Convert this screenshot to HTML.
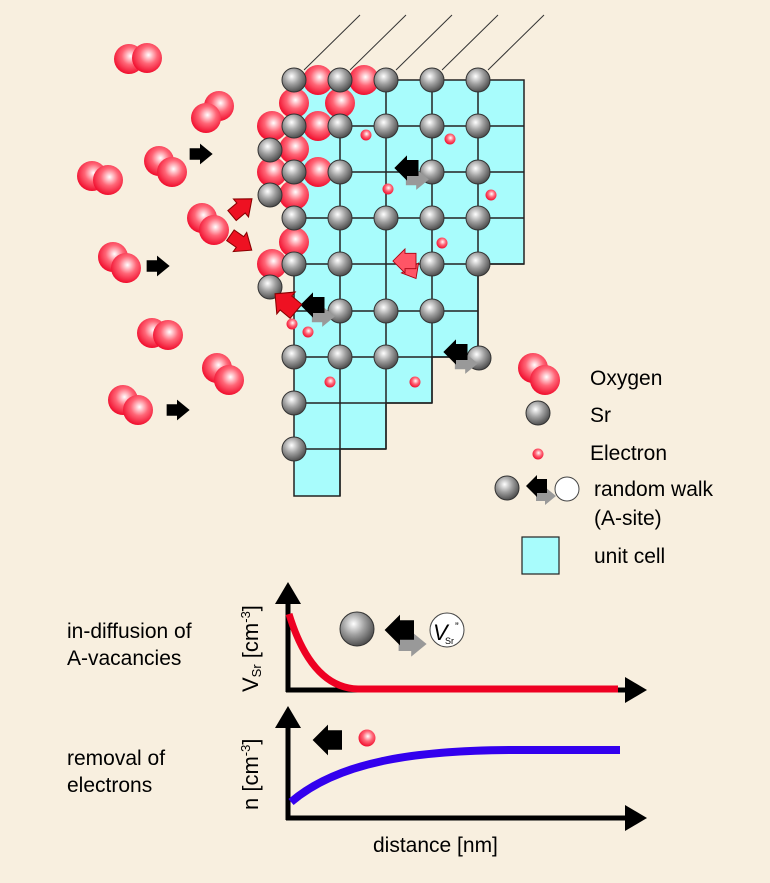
<!DOCTYPE html>
<html><head><meta charset="utf-8"><style>
html,body{margin:0;padding:0;background:#f8efdf;}
svg{display:block;font-family:"Liberation Sans",Arial,sans-serif;}
</style></head><body>
<svg width="770" height="883" viewBox="0 0 770 883" xmlns="http://www.w3.org/2000/svg">
<defs>
<radialGradient id="gs" cx="0.4" cy="0.35" r="0.65"><stop offset="0" stop-color="#ffffff"/><stop offset="0.5" stop-color="#a0a0a0"/><stop offset="1" stop-color="#505050"/></radialGradient>
<radialGradient id="rs" cx="0.55" cy="0.4" r="0.65"><stop offset="0" stop-color="#ffffff"/><stop offset="0.45" stop-color="#ff6677"/><stop offset="1" stop-color="#ee0022"/></radialGradient>
<g id="sr"><circle r="12" fill="url(#gs)" stroke="#333" stroke-width="1"/></g>
<g id="ox"><circle r="15" fill="url(#rs)"/></g>
<g id="el"><circle r="5.5" fill="url(#rs)"/></g>
<path id="la" d="M-11,0 L0,-11 L0,-7 L10,-7 L10,7 L0,7 L0,11 Z"/>
<path id="ra" d="M11,0 L0,-9 L0,-5 L-9,-5 L-9,5 L0,5 L0,9 Z"/>
<g id="rw"><use href="#ra" transform="translate(8,10)" fill="#999"/><use href="#la" fill="#000"/></g>
</defs>

<g stroke="#333" stroke-width="1">
<line x1="304" y1="70" x2="360" y2="15"/><line x1="350" y1="70" x2="406" y2="15"/>
<line x1="396" y1="70" x2="452" y2="15"/><line x1="442" y1="70" x2="498" y2="15"/>
<line x1="488" y1="70" x2="544" y2="15"/>
</g>
<path d="M294,80 H524 V264 H478 V357 H432 V403 H386 V449 H340 V496 H294 Z" fill="#a8fcfc" stroke="#222" stroke-width="1.5"/>
<g stroke="#222" stroke-width="1.5" fill="none">
<line x1="294" y1="126" x2="524" y2="126"/><line x1="294" y1="172" x2="524" y2="172"/>
<line x1="294" y1="218" x2="524" y2="218"/><line x1="294" y1="264" x2="524" y2="264"/>
<line x1="294" y1="311" x2="478" y2="311"/><line x1="294" y1="357" x2="478" y2="357"/>
<line x1="294" y1="403" x2="432" y2="403"/><line x1="294" y1="449" x2="386" y2="449"/>
<line x1="340" y1="80" x2="340" y2="496"/><line x1="386" y1="80" x2="386" y2="449"/>
<line x1="432" y1="80" x2="432" y2="403"/><line x1="478" y1="80" x2="478" y2="357"/>
</g>

<use href="#ox" x="318" y="80"/><use href="#ox" x="364" y="80"/>
<use href="#ox" x="294" y="103"/><use href="#ox" x="340" y="103"/>
<use href="#ox" x="272" y="126"/><use href="#ox" x="318" y="126"/>
<use href="#ox" x="294" y="149"/>
<use href="#ox" x="272" y="172"/><use href="#ox" x="318" y="172"/>
<use href="#ox" x="294" y="195"/>
<use href="#ox" x="294" y="242"/><use href="#ox" x="272" y="264"/>

<g>
<use href="#sr" x="294" y="80"/><use href="#sr" x="340" y="80"/><use href="#sr" x="386" y="80"/><use href="#sr" x="432" y="80"/><use href="#sr" x="478" y="80"/>
<use href="#sr" x="294" y="126"/><use href="#sr" x="340" y="126"/><use href="#sr" x="386" y="126"/><use href="#sr" x="432" y="126"/><use href="#sr" x="478" y="126"/>
<use href="#sr" x="270" y="150"/>
<use href="#sr" x="294" y="172"/><use href="#sr" x="340" y="172"/><use href="#sr" x="432" y="172"/><use href="#sr" x="478" y="172"/>
<use href="#sr" x="270" y="195"/>
<use href="#sr" x="294" y="218"/><use href="#sr" x="340" y="218"/><use href="#sr" x="386" y="218"/><use href="#sr" x="432" y="218"/><use href="#sr" x="478" y="218"/>
<use href="#sr" x="294" y="264"/><use href="#sr" x="340" y="264"/><use href="#sr" x="432" y="264"/><use href="#sr" x="478" y="264"/>
<use href="#sr" x="270" y="287"/>
<use href="#sr" x="340" y="311"/><use href="#sr" x="386" y="311"/><use href="#sr" x="432" y="311"/>
<use href="#sr" x="294" y="357"/><use href="#sr" x="340" y="357"/><use href="#sr" x="386" y="357"/><use href="#sr" x="479" y="358"/>
<use href="#sr" x="294" y="403"/><use href="#sr" x="294" y="449"/>
</g>
<use href="#el" x="366" y="135"/><use href="#el" x="450" y="139"/><use href="#el" x="388" y="189"/>
<use href="#el" x="491" y="195"/><use href="#el" x="442" y="243"/><use href="#el" x="292" y="324"/>
<use href="#el" x="308" y="332"/><use href="#el" x="330" y="382"/><use href="#el" x="415" y="382"/>

<g transform="translate(407,168) scale(1.15)"><use href="#rw"/></g>
<g transform="translate(313,305) scale(1.15)"><use href="#rw"/></g>
<g transform="translate(456,352) scale(1.15)"><use href="#rw"/></g>
<g fill="#ff5566" stroke="#aa0011" stroke-width="0.8">
<use href="#ra" transform="translate(410,268) rotate(60) scale(1.1)"/>
<use href="#la" transform="translate(405,261) scale(1.1)"/>
</g>
<g fill="#ee1122" stroke="#880000" stroke-width="0.8">
<use href="#ra" transform="translate(241,208) rotate(-40) scale(1.3)"/>
<use href="#ra" transform="translate(240,242) rotate(35) scale(1.3)"/>
<use href="#la" transform="translate(286,303) rotate(40) scale(1.3)"/>
</g>

<g>
<use href="#ox" x="129" y="59"/><use href="#ox" x="147" y="58"/>
<use href="#ox" x="219" y="106"/><use href="#ox" x="206" y="118"/>
<use href="#ox" x="159" y="161"/><use href="#ox" x="172" y="172"/>
<use href="#ox" x="92" y="176"/><use href="#ox" x="108" y="180"/>
<use href="#ox" x="202" y="218"/><use href="#ox" x="214" y="230"/>
<use href="#ox" x="113" y="257"/><use href="#ox" x="126" y="268"/>
<use href="#ox" x="152" y="333"/><use href="#ox" x="168" y="335"/>
<use href="#ox" x="217" y="368"/><use href="#ox" x="229" y="380"/>
<use href="#ox" x="123" y="400"/><use href="#ox" x="138" y="410"/>
</g>
<use href="#ra" transform="translate(200,154) scale(1.15)" fill="#000"/>
<use href="#ra" transform="translate(157,266) scale(1.15)" fill="#000"/>
<use href="#ra" transform="translate(177,410) scale(1.15)" fill="#000"/>

<use href="#ox" x="533" y="368"/><use href="#ox" x="545" y="380"/>
<use href="#sr" x="538" y="413"/>
<use href="#el" x="538" y="454"/>
<use href="#sr" x="507" y="488"/>
<use href="#rw" x="537" y="486"/>
<circle cx="567" cy="489" r="12" fill="#fff" stroke="#444"/>
<rect x="522" y="537" width="37" height="37" fill="#a8fcfc" stroke="#222" stroke-width="1.2"/>
<g font-size="21" fill="#000">
<text x="590" y="385">Oxygen</text>
<text x="590" y="422">Sr</text>
<text x="590" y="460">Electron</text>
<text x="594" y="496">random walk</text>
<text x="594" y="525">(A-site)</text>
<text x="594" y="563">unit cell</text>
</g>

<g font-size="21">
<text x="67" y="638">in-diffusion of</text>
<text x="67" y="665">A-vacancies</text>
<text x="67" y="765">removal of</text>
<text x="67" y="792">electrons</text>
<text x="373" y="852">distance [nm]</text>
<text transform="translate(258,692) rotate(-90)" font-size="22">V<tspan font-size="13" dy="3">Sr</tspan><tspan dy="-3"> [cm</tspan><tspan font-size="13" dy="-8">-3</tspan><tspan dy="8">]</tspan></text>
<text transform="translate(258,810) rotate(-90)" font-size="22">n [cm<tspan font-size="13" dy="-8">-3</tspan><tspan dy="8">]</tspan></text>
</g>
<g stroke="#000" stroke-width="5" fill="none">
<line x1="288" y1="600" x2="288" y2="692"/><line x1="286" y1="690" x2="630" y2="690"/>
<line x1="288" y1="724" x2="288" y2="820"/><line x1="286" y1="818" x2="630" y2="818"/>
</g>
<g fill="#000">
<polygon points="288,582 275,604 301,604"/><polygon points="647,690 625,677 625,703"/>
<polygon points="288,706 275,728 301,728"/><polygon points="647,818 625,805 625,831"/>
</g>
<path d="M289,614 C300,650 320,688 358,689 L618,689" stroke="#ee0022" stroke-width="7" fill="none"/>
<path d="M291,802 C340,760 420,750 520,750 L620,750" stroke="#3300ee" stroke-width="8" fill="none"/>
<circle cx="357" cy="629" r="17" fill="url(#gs)" stroke="#333"/>
<g transform="translate(400,630) scale(1.4)"><use href="#rw"/></g>
<circle cx="447" cy="630" r="17" fill="#fff" stroke="#444"/>
<text x="433" y="640" font-size="22" font-style="italic">V</text>
<text x="445" y="644" font-size="9">Sr</text>
<text x="455" y="630" font-size="11">”</text>
<use href="#la" transform="translate(328,740) scale(1.4)" fill="#000"/>
<circle cx="367" cy="738" r="8.5" fill="url(#rs)"/>
</svg>
</body></html>
